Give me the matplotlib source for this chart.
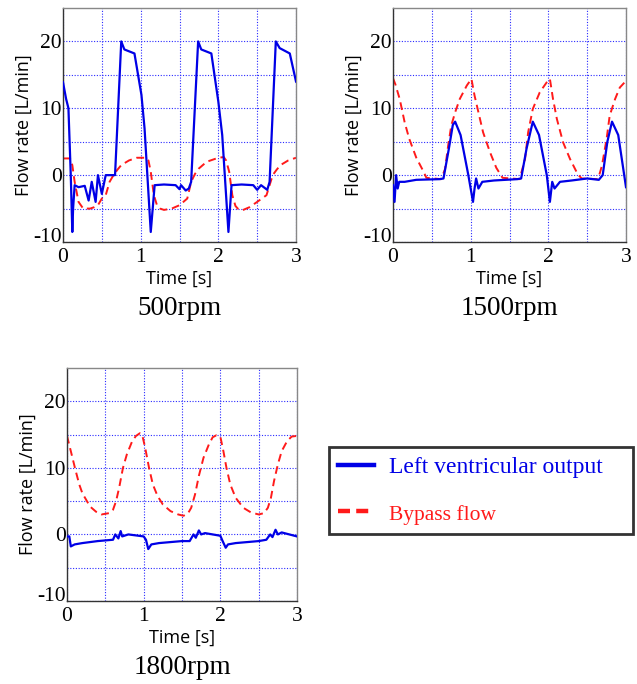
import numpy as np
import matplotlib
matplotlib.use("Agg")
import matplotlib.pyplot as plt

plt.rcParams["axes.unicode_minus"] = False

# ---- data (time [s], flow [L/min]) ----
t_lvo_500 = [0.0, 0.04, 0.07, 0.10, 0.12, 0.13, 0.15, 0.20, 0.28, 0.33, 0.37, 0.42, 0.45, 0.50,
             0.55, 0.60, 0.67, 0.75, 0.79, 0.92, 1.01, 1.05, 1.13, 1.18, 1.30, 1.45, 1.50, 1.52,
             1.58, 1.62, 1.65, 1.74, 1.78, 1.91, 2.00, 2.05, 2.13, 2.17, 2.30, 2.45, 2.50, 2.55,
             2.63, 2.66, 2.74, 2.79, 2.92, 3.0]
q_lvo_500 = [13.9, 11.4, 10.0, 0.0, -8.5, -5.0, -1.5, -1.8, -1.6, -3.8, -1.0, -4.0, 0.0, -2.8,
             0.0, 0.0, 0.0, 20.0, 18.8, 18.2, 12.0, 7.0, -8.5, -1.5, -1.4, -1.5, -2.1, -1.5,
             -2.3, -2.0, -1.0, 20.0, 18.8, 18.2, 11.0, 6.0, -8.5, -1.5, -1.4, -1.5, -2.2, -1.5,
             -2.2, -1.0, 20.0, 19.0, 18.2, 14.0]
t_byp_500 = [0.0, 0.09, 0.12, 0.15, 0.20, 0.26, 0.35, 0.40, 0.45, 0.50, 0.55, 0.60, 0.65, 0.70,
             0.75, 0.85, 0.95, 1.07, 1.10, 1.13, 1.17, 1.21, 1.25, 1.30, 1.40, 1.50, 1.60, 1.65,
             1.70, 1.75, 1.85, 2.00, 2.07, 2.10, 2.14, 2.18, 2.22, 2.25, 2.30, 2.40, 2.50, 2.62,
             2.66, 2.70, 2.75, 2.80, 2.90, 3.0]
q_byp_500 = [2.5, 2.5, 1.5, -1.0, -4.0, -5.0, -5.0, -4.8, -4.5, -3.5, -3.0, -1.0, 0.0, 0.8,
             1.5, 2.2, 2.6, 2.6, 2.2, 0.5, -3.0, -4.5, -5.0, -5.2, -5.0, -4.5, -3.5, -1.0,
             0.2, 1.0, 2.0, 2.6, 2.7, 2.2, 0.5, -3.0, -4.6, -5.0, -5.3, -4.8, -4.0, -3.0,
             -1.5, 0.0, 0.8, 1.5, 2.2, 2.6]

t_lvo_1500 = [0.0, 0.02, 0.04, 0.06, 0.08, 0.15, 0.30, 0.60, 0.65, 0.72, 0.77, 0.80, 0.87, 0.97,
              1.03, 1.05, 1.07, 1.10, 1.15, 1.30, 1.60, 1.65, 1.72, 1.80, 1.88, 1.98, 2.02, 2.05,
              2.08, 2.15, 2.30, 2.50, 2.65, 2.70, 2.76, 2.82, 2.90, 3.0]
q_lvo_1500 = [-1.5, -4.0, 0.0, -2.0, -1.0, -1.0, -0.7, -0.6, -0.5, 4.0, 7.5, 8.0, 6.0, 0.0,
              -4.0, -2.0, -0.5, -2.0, -1.0, -0.8, -0.6, -0.5, 4.0, 8.0, 6.0, 0.0, -4.0, -1.0,
              -2.0, -1.0, -0.8, -0.5, -0.7, 0.0, 5.0, 8.0, 6.0, -1.8]
t_byp_1500 = [0.0, 0.03, 0.086, 0.15, 0.21, 0.30, 0.39, 0.43, 0.62, 0.67, 0.71, 0.75, 0.80, 0.86,
              0.95, 1.01, 1.05, 1.10, 1.16, 1.25, 1.33, 1.41, 1.63, 1.70, 1.74, 1.80, 1.89, 1.98,
              2.02, 2.06, 2.11, 2.19, 2.28, 2.38, 2.43, 2.64, 2.69, 2.75, 2.79, 2.86, 2.92, 3.0]
q_byp_1500 = [14.5, 13.6, 11.4, 7.9, 5.4, 2.6, 0.6, -0.4, -0.6, 0.9, 4.4, 7.4, 9.4, 11.4,
              13.4, 14.4, 11.9, 9.4, 6.4, 3.4, 1.1, -0.4, -0.6, 2.4, 6.4, 9.9, 12.4, 13.9,
              14.4, 11.4, 8.4, 4.9, 2.4, 0.1, -0.5, -0.6, 1.4, 5.4, 8.9, 11.4, 13.1, 14.1]

t_lvo_1800 = [0.0, 0.03, 0.05, 0.10, 0.20, 0.40, 0.60, 0.63, 0.67, 0.70, 0.72, 0.80, 1.00, 1.03,
              1.06, 1.10, 1.20, 1.50, 1.60, 1.65, 1.68, 1.72, 1.75, 1.80, 2.00, 2.03, 2.07, 2.10,
              2.20, 2.50, 2.60, 2.65, 2.68, 2.72, 2.75, 2.80, 3.0]
q_lvo_1800 = [-0.3, -0.3, -1.8, -1.5, -1.3, -1.0, -0.8, 0.0, -0.6, 0.5, -0.3, 0.0, -0.3, -0.8,
              -2.2, -1.5, -1.3, -1.0, -1.0, 0.0, -0.5, 0.6, 0.0, 0.2, -0.2, -1.0, -2.0, -1.5,
              -1.3, -1.0, -0.8, 0.0, -0.4, 0.7, 0.0, 0.3, -0.3]
t_byp_1800 = [0.0, 0.05, 0.11, 0.16, 0.20, 0.30, 0.38, 0.45, 0.55, 0.60, 0.64, 0.68, 0.73, 0.78,
              0.85, 0.90, 0.95, 0.98, 1.02, 1.07, 1.12, 1.18, 1.25, 1.35, 1.45, 1.52, 1.58, 1.62,
              1.67, 1.72, 1.78, 1.85, 1.90, 1.95, 2.00, 2.04, 2.08, 2.13, 2.20, 2.30, 2.40, 2.50,
              2.57, 2.62, 2.66, 2.70, 2.75, 2.80, 2.87, 2.93, 3.0]
q_byp_1800 = [14.8, 12.5, 9.7, 7.5, 6.2, 4.2, 3.4, 3.0, 3.2, 3.7, 5.0, 7.0, 10.0, 12.0,
              14.0, 14.8, 15.2, 15.0, 13.0, 10.0, 7.5, 5.8, 4.5, 3.5, 3.0, 2.8, 3.2, 4.0,
              6.0, 8.8, 11.5, 13.5, 14.6, 14.9, 14.7, 12.5, 10.0, 7.5, 5.5, 4.0, 3.3, 3.0,
              3.2, 4.0, 5.5, 8.0, 10.5, 12.5, 14.0, 14.7, 14.8]

titles = ["500rpm", "1500rpm", "1800rpm"]
legend_labels = ["Left ventricular output", "Bypass flow"]

W, H = 637, 684
fig = plt.figure(figsize=(W / 100, H / 100), dpi=100)

def px_axes(x0, y0, x1, y1):
    return fig.add_axes([x0 / W, 1 - y1 / H, (x1 - x0) / W, (y1 - y0) / H])

boxes = [(63, 8, 296, 242), (393, 8, 626, 242), (67, 368, 297, 601)]
series = [(t_lvo_500, q_lvo_500, t_byp_500, q_byp_500),
          (t_lvo_1500, q_lvo_1500, t_byp_1500, q_byp_1500),
          (t_lvo_1800, q_lvo_1800, t_byp_1800, q_byp_1800)]

serif = "Liberation Serif"
sans = "Open Sans"

for box, (tl, ql, tb, qb), title in zip(boxes, series, titles):
    ax = px_axes(*box)
    l1, = ax.plot(tl, ql, color="#0000e6", lw=1.6, label=legend_labels[0], zorder=3)
    l2, = ax.plot(tb, qb, color="#ff1a1a", lw=1.4, ls=(0, (4, 2.5)), label=legend_labels[1], zorder=2)
    ax.set_xlim(0, 3)
    ax.set_ylim(-10, 25)
    ax.set_xticks([0, 1, 2, 3])
    ax.set_xticks(np.arange(0.5, 3, 1.0), minor=True)
    ax.set_yticks([-10, 0, 10, 20])
    ax.set_yticks([-5, 5, 15], minor=True)
    ax.grid(which="both", color="#2a2aff", ls=(0, (1, 1.5)), lw=0.8)
    ax.tick_params(which="both", length=0)
    ax.tick_params(axis="x", pad=4)
    ax.tick_params(axis="y", pad=1)
    for lab in ax.get_xticklabels() + ax.get_yticklabels():
        lab.set_fontfamily(serif)
        lab.set_fontsize(15.5)
    for lab in ax.get_yticklabels():
        lab.set_verticalalignment("center_baseline")
    # lowest label sits just above the bottom frame, clear of the x tick "0"
    ax.get_yticklabels()[0].set_verticalalignment("baseline")
    for s in ["left", "bottom"]:
        ax.spines[s].set_color("#333333")
        ax.spines[s].set_linewidth(1.0)
    for s in ["top", "right"]:
        ax.spines[s].set_color("#888888")
        ax.spines[s].set_linewidth(1.0)
    ax.set_xlabel("Time [s]", family=sans, fontsize=13, labelpad=2)
    ax.set_ylabel("Flow rate [L/min]", family=sans, fontsize=13, labelpad=0)
    ax.text(0.5, -0.285, title, transform=ax.transAxes, ha="center", va="center",
            family=serif, fontsize=19.5)

leg = fig.legend(handles=[l1, l2], loc="upper left",
                 bbox_to_anchor=(329 / W, 1 - 448 / H, (633 - 329) / W, 0.001), mode="expand",
                 frameon=True, fancybox=False, edgecolor="black", handlelength=1.5,
                 handletextpad=0.65, labelspacing=1.05, borderpad=0.4, borderaxespad=0,
                 prop={"family": serif, "size": 17}, labelcolor="linecolor")
leg.get_frame().set_linewidth(2.0)
leg.get_lines()[0].set_linewidth(3.2)
leg.get_lines()[1].set_linewidth(3.2)
leg.get_lines()[1].set_linestyle((0, (2.7, 1.4)))
leg.get_texts()[1].set_fontsize(15.5)

fig.savefig("out.png", dpi=100)
